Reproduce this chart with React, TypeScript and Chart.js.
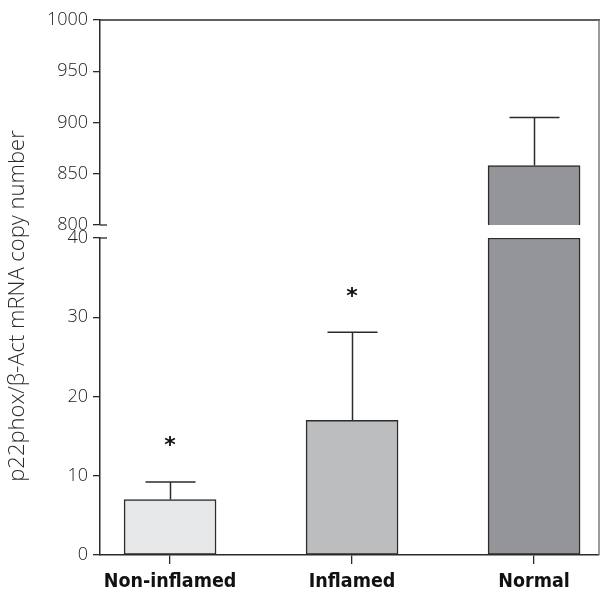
import React, { useEffect, useRef } from 'react';
import { Chart, registerables } from 'chart.js';

Chart.register(...registerables);

const categories = ['Non-inflamed', 'Inflamed', 'Normal'];
const means = [7, 17, 858];
const errors = [2.2, 11.1, 47];
const significance: (number | null)[] = [14.5, 33.3, null];
const upperTicks = [800, 850, 900, 950, 1000];
const lowerTicks = [0, 10, 20, 30, 40];
const barColors = ['#e6e7e8', '#bcbdbf', '#939598'];
const yTitle = 'p22phox/β-Act mRNA copy number';

const W = 600;
const H = 594;
const FRAME_TOP = 20;
const UPPER_BOTTOM = 225;
const LOWER_TOP = 238;
const X_MIN = -0.385;
const X_MAX = X_MIN + 499 / 182;
const INK = '#2b2b2b';
const TICK_FONT = { family: '"Open Sans", "DejaVu Sans", sans-serif', size: 18, weight: '300' as any };
const CAT_FONT = { family: '"DejaVu Sans Condensed", "DejaVu Sans", sans-serif', size: 19.5, weight: 'bold' as any };

type Part = 'upper' | 'lower';

function segmentRange(part: Part) {
  const t = part === 'upper' ? upperTicks : lowerTicks;
  return { min: t[0], max: t[t.length - 1], step: t[1] - t[0] };
}

function makeDecor(part: Part) {
  return {
    id: 'decor_' + part,
    afterDatasetsDraw(chart: any) {
      const { ctx, chartArea: a, scales } = chart;
      const xs = scales.x;
      const ys = scales.y;
      ctx.save();
      ctx.strokeStyle = INK;
      ctx.lineWidth = 1.5;
      // error bars (upper side only)
      means.forEach((m, i) => {
        const top = m + errors[i];
        if (m > ys.max || top < ys.min) return;
        const cx = Math.round(xs.getPixelForValue(i)) + 0.5;
        const y0 = ys.getPixelForValue(Math.max(m, ys.min));
        const y1 = ys.getPixelForValue(Math.min(top, ys.max));
        ctx.beginPath();
        ctx.moveTo(cx, y0);
        ctx.lineTo(cx, y1);
        ctx.stroke();
        if (top <= ys.max) {
          ctx.beginPath();
          ctx.moveTo(cx - 25, y1);
          ctx.lineTo(cx + 25, y1);
          ctx.stroke();
        }
      });
      // significance marks
      ctx.fillStyle = '#111';
      ctx.font = 'bold 22px "DejaVu Sans", sans-serif';
      ctx.textAlign = 'center';
      ctx.textBaseline = 'middle';
      significance.forEach((s, i) => {
        if (s == null || s < ys.min || s > ys.max) return;
        ctx.fillText('*', xs.getPixelForValue(i), ys.getPixelForValue(s) + 6);
      });
      ctx.strokeStyle = INK;
      ctx.lineWidth = 1.5;
      if (part === 'upper') {
        ctx.beginPath();
        ctx.moveTo(a.left, a.top);
        ctx.lineTo(a.right + 1, a.top);
        ctx.stroke();
        // break tick extending right
        ctx.lineWidth = 1.3;
        ctx.beginPath();
        ctx.moveTo(a.left, a.bottom);
        ctx.lineTo(a.left + 7, a.bottom);
        ctx.stroke();
      } else {
        // frame: right border spanning both segments
        ctx.strokeStyle = '#7a7a7a';
        ctx.lineWidth = 1.5;
        ctx.beginPath();
        ctx.moveTo(a.right, FRAME_TOP);
        ctx.lineTo(a.right, a.bottom);
        ctx.stroke();
        ctx.strokeStyle = INK;
        ctx.lineWidth = 1.3;
        ctx.beginPath();
        ctx.moveTo(a.left, a.top);
        ctx.lineTo(a.left + 7, a.top);
        ctx.stroke();
        // y axis title
        ctx.save();
        ctx.translate(18, 306);
        ctx.rotate(-Math.PI / 2);
        ctx.fillStyle = '#2a2a2a';
        ctx.font = '300 22px "Open Sans", "DejaVu Sans", sans-serif';
        ctx.textAlign = 'center';
        ctx.textBaseline = 'middle';
        ctx.fillText(yTitle, 0, 0);
        ctx.restore();
      }
      ctx.restore();
    },
  };
}

function buildConfig(part: Part): any {
  const r = segmentRange(part);
  const data = means.map((m, i) => ({
    x: i,
    y: part === 'upper' ? (m >= r.min ? m : null) : Math.min(m, r.max),
  }));
  return {
    type: 'bar',
    data: {
      datasets: [
        {
          data,
          backgroundColor: barColors,
          borderColor: INK,
          borderWidth: 1.5,
          borderSkipped: false,
          barThickness: 92,
        },
      ],
    },
    options: {
      responsive: false,
      animation: false,
      events: [],
      layout: {
        padding:
          part === 'upper'
            ? { top: FRAME_TOP, bottom: H - UPPER_BOTTOM, left: 0, right: 1 }
            : { top: LOWER_TOP, bottom: 0, left: 0, right: 1 },
      },
      plugins: { legend: { display: false }, tooltip: { enabled: false } },
      scales: {
        x: {
          type: 'linear',
          min: X_MIN,
          max: X_MAX,
          offset: false,
          display: part === 'lower',
          ticks: {
            stepSize: 1,
            includeBounds: false,
            autoSkip: false,
            maxRotation: 0,
            padding: 6,
            color: '#111',
            font: CAT_FONT,
            callback: (v: number) => categories[v] ?? '',
          },
          grid: {
            display: true,
            offset: false,
            drawOnChartArea: false,
            drawTicks: true,
            tickLength: 9,
            color: INK,
            lineWidth: 1.3,
          },
          border: { display: true, color: INK, width: 1.5 },
          afterFit: (s: any) => {
            s.height = part === 'lower' ? 39 : 0;
          },
        },
        y: {
          min: r.min,
          max: r.max,
          ticks: {
            stepSize: r.step,
            padding: 5,
            color: '#222',
            font: TICK_FONT,
            callback: (v: number) => String(v),
          },
          grid: {
            display: true,
            drawOnChartArea: false,
            drawTicks: true,
            tickLength: 7,
            color: INK,
            lineWidth: 1.3,
          },
          border: { display: true, color: INK, width: 1.5 },
          afterFit: (s: any) => {
            s.width = 100;
          },
        },
      },
    },
    plugins: [makeDecor(part)],
  };
}

export default function App() {
  const upperRef = useRef<HTMLCanvasElement>(null);
  const lowerRef = useRef<HTMLCanvasElement>(null);

  useEffect(() => {
    const charts: Chart[] = [];
    if (upperRef.current) charts.push(new Chart(upperRef.current, buildConfig('upper')));
    if (lowerRef.current) charts.push(new Chart(lowerRef.current, buildConfig('lower')));
    return () => charts.forEach((c) => c.destroy());
  }, []);

  const canvasStyle: React.CSSProperties = { position: 'absolute', left: 0, top: 0, width: W, height: H };
  return (
    <div style={{ position: 'fixed', left: 0, top: 0, width: W, height: H, background: '#fff' }}>
      <canvas ref={upperRef} width={W} height={H} style={canvasStyle} />
      <canvas ref={lowerRef} width={W} height={H} style={canvasStyle} />
    </div>
  );
}
